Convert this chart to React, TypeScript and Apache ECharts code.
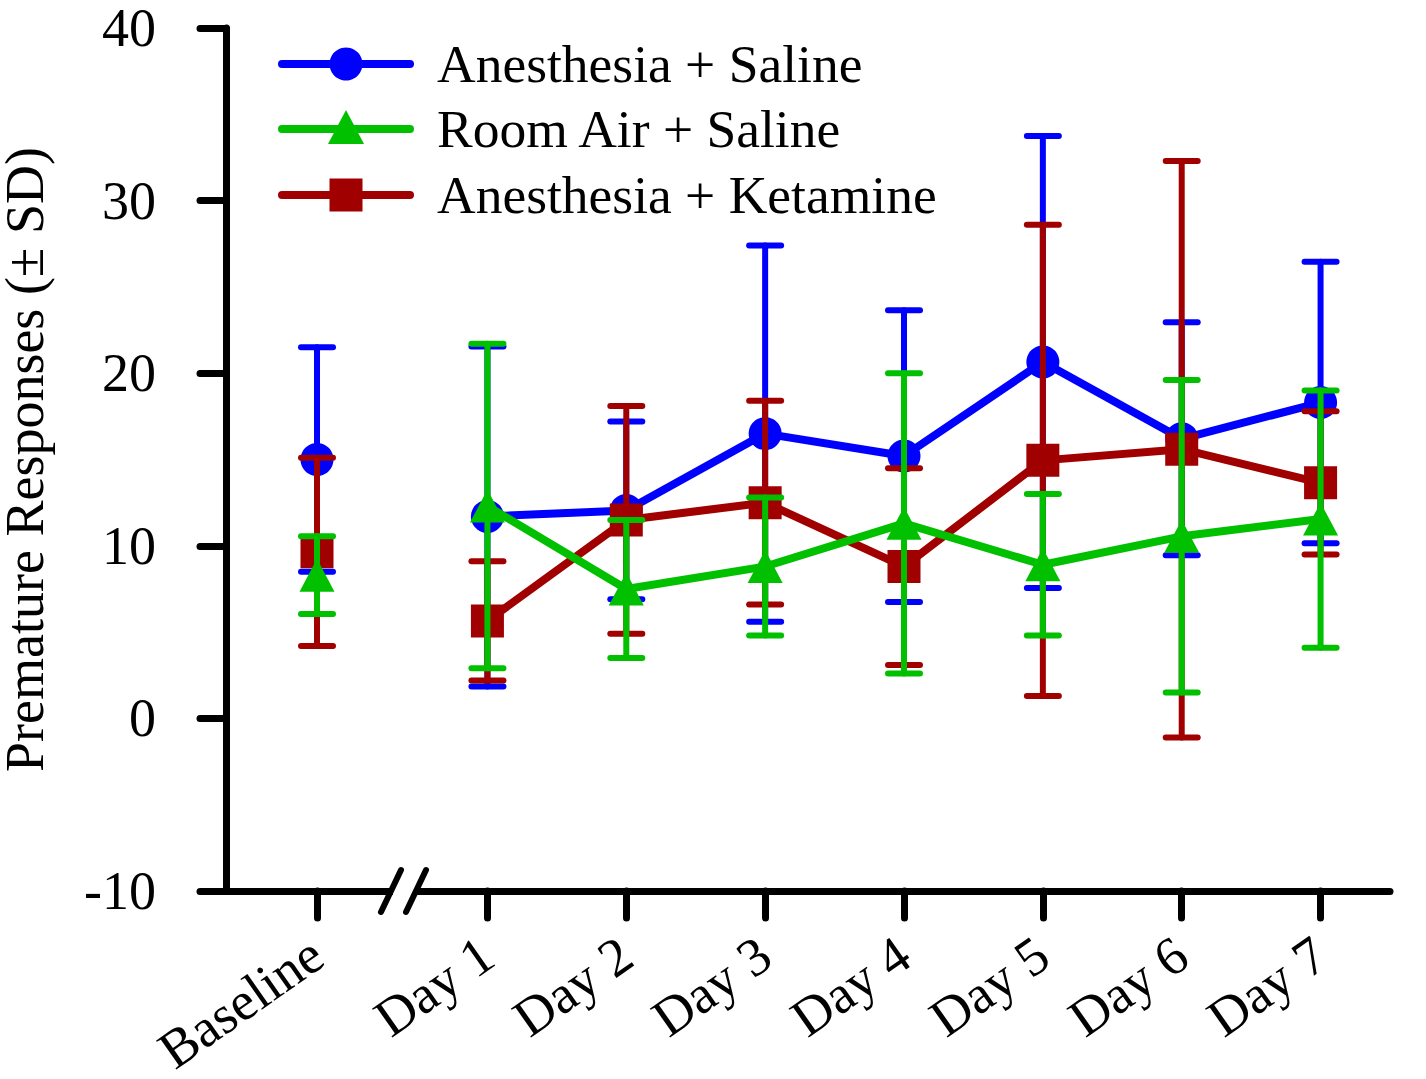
import React, { useEffect, useRef } from "react";
import * as echarts from "echarts";

// ---------- data ----------
const BASELINE_CATEGORY = ["Baseline"];
const DAY_CATEGORIES = ["Day 1", "Day 2", "Day 3", "Day 4", "Day 5", "Day 6", "Day 7"];
const Y_MIN = -10;
const Y_MAX = 40;
const Y_STEP = 10;
const Y_TITLE = "Premature Responses (\u00b1 SD)";

// index 0 = Baseline, 1..7 = Day 1..Day 7
const ANES_SALINE_MEAN = [15.0, 11.7, 12.05, 16.5, 15.2, 20.65, 16.2, 18.3];
const ANES_SALINE_SD = [6.5, 9.85, 5.15, 10.9, 8.45, 13.1, 6.75, 8.15];

const AIR_SALINE_MEAN = [8.3, 12.3, 7.5, 8.8, 11.3, 8.9, 10.55, 11.55];
const AIR_SALINE_SD = [2.25, 9.4, 4.0, 4.0, 8.7, 4.1, 9.05, 7.45];

const ANES_KET_MEAN = [9.65, 5.65, 11.5, 12.5, 8.8, 14.95, 15.6, 13.65];
const ANES_KET_SD = [5.45, 3.45, 6.6, 5.9, 5.7, 13.65, 16.7, 4.15];

const GROUPS = [
  { name: "Anesthesia + Saline", mean: ANES_SALINE_MEAN, sd: ANES_SALINE_SD, color: "#0000FF", symbol: "circle", z: 2 },
  { name: "Anesthesia + Ketamine", mean: ANES_KET_MEAN, sd: ANES_KET_SD, color: "#A00000", symbol: "rect", z: 5 },
  { name: "Room Air + Saline", mean: AIR_SALINE_MEAN, sd: AIR_SALINE_SD, color: "#00C000", symbol: "triangle", z: 8 },
];
const LEGEND_ORDER = ["Anesthesia + Saline", "Room Air + Saline", "Anesthesia + Ketamine"];

// ---------- layout / style ----------
const W = 1426;
const H = 1079;
const FONT = '"Liberation Serif", "Times New Roman", Times, serif';
const GRID_TOP = 28;
const GRID_BOTTOM = 188;
const G1_LEFT = 226;
const G1_WIDTH = 182;
const G2_LEFT = 418;
const G2_RIGHT = 36;
const AXIS_W = 7;
const SYMBOL_SIZE = 33;
const FS = 54;

function symbolSizeFor(symbol: string) {
  if (symbol === "triangle") return [35, 33];
  return SYMBOL_SIZE;
}

function errorRenderer(color: string) {
  return (params: any, api: any) => {
    const x = api.value(0);
    const lo = api.coord([x, api.value(1)]);
    const hi = api.coord([x, api.value(2)]);
    const hw = 16;
    const style = { stroke: color, lineWidth: 6, lineCap: "round" };
    return {
      type: "group",
      children: [
        { type: "line", shape: { x1: lo[0], y1: lo[1], x2: hi[0], y2: hi[1] }, style },
        { type: "line", shape: { x1: hi[0] - hw, y1: hi[1], x2: hi[0] + hw, y2: hi[1] }, style },
        { type: "line", shape: { x1: lo[0] - hw, y1: lo[1], x2: lo[0] + hw, y2: lo[1] }, style },
      ],
    };
  };
}

function buildSeries() {
  const series: any[] = [];
  GROUPS.forEach((g) => {
    const base = [[0, g.mean[0]]];
    const baseErr = [[0, g.mean[0] - g.sd[0], g.mean[0] + g.sd[0]]];
    const days = g.mean.slice(1);
    const dayErr = g.mean.slice(1).map((m, i) => [i, m - g.sd[i + 1], m + g.sd[i + 1]]);
    series.push({
      type: "custom",
      name: g.name + " err0",
      xAxisIndex: 0,
      yAxisIndex: 0,
      z: g.z,
      renderItem: errorRenderer(g.color),
      encode: { x: 0, y: [1, 2] },
      data: baseErr,
      clip: false,
    });
    series.push({
      type: "scatter",
      name: g.name,
      xAxisIndex: 0,
      yAxisIndex: 0,
      z: g.z + 1,
      symbol: g.symbol,
      symbolSize: symbolSizeFor(g.symbol),
      itemStyle: { color: g.color, opacity: 1 },
      data: base,
      clip: false,
    });
    series.push({
      type: "custom",
      name: g.name + " err",
      xAxisIndex: 1,
      yAxisIndex: 1,
      z: g.z,
      renderItem: errorRenderer(g.color),
      encode: { x: 0, y: [1, 2] },
      data: dayErr,
      clip: false,
    });
    series.push({
      type: "line",
      name: g.name,
      xAxisIndex: 1,
      yAxisIndex: 1,
      z: g.z + 1,
      symbol: g.symbol,
      symbolSize: symbolSizeFor(g.symbol),
      showSymbol: true,
      lineStyle: { color: g.color, width: 8 },
      itemStyle: { color: g.color },
      data: days,
      clip: false,
    });
  });
  return series;
}

function legendGraphics() {
  const items: any[] = [];
  const x0 = 282;
  const x1 = 410;
  const cx = (x0 + x1) / 2;
  const ys = [64, 129, 195];
  LEGEND_ORDER.forEach((name, i) => {
    const g = GROUPS.find((q) => q.name === name)!;
    const y = ys[i];
    items.push({
      type: "line",
      shape: { x1: x0, y1: y, x2: x1, y2: y },
      style: { stroke: g.color, lineWidth: 8, lineCap: "round" },
      z: 50,
    });
    if (g.symbol === "circle") {
      items.push({ type: "circle", shape: { cx, cy: y, r: 16.5 }, style: { fill: g.color }, z: 51 });
    } else if (g.symbol === "rect") {
      items.push({ type: "rect", shape: { x: cx - 16.5, y: y - 16.5, width: 33, height: 33 }, style: { fill: g.color }, z: 51 });
    } else {
      items.push({
        type: "polygon",
        shape: { points: [[cx, y - 19], [cx + 18, y + 15], [cx - 18, y + 15]] },
        style: { fill: g.color },
        z: 51,
      });
    }
    items.push({
      type: "text",
      x: 437,
      y,
      style: { text: g.name, font: `53.5px ${FONT}`, fill: "#000", textVerticalAlign: "middle", verticalAlign: "middle" },
      z: 51,
    });
  });
  return items;
}

function breakGraphics() {
  const axisY = H - GRID_BOTTOM;
  const style = { stroke: "#000", lineWidth: 6, lineCap: "round" };
  return [
    { type: "rect", shape: { x: 393, y: axisY - 7, width: 22, height: 14 }, style: { fill: "#fff" }, z: 60 },
    { type: "line", shape: { x1: 381, y1: axisY + 21, x2: 401, y2: axisY - 21 }, style, z: 61 },
    { type: "line", shape: { x1: 406, y1: axisY + 21, x2: 426, y2: axisY - 21 }, style, z: 61 },
  ];
}

function xAxisCfg(gridIndex: number, data: string[]) {
  return {
    type: "category",
    gridIndex,
    data,
    boundaryGap: true,
    axisLine: { show: true, onZero: false, lineStyle: { color: "#000", width: AXIS_W, cap: "round" } },
    axisTick: { show: true, alignWithLabel: true, length: 27, lineStyle: { color: "#000", width: AXIS_W, cap: "round" } },
    axisLabel: {
      show: true,
      interval: 0,
      rotate: 35,
      margin: 58,
      color: "#000",
      fontSize: FS,
      fontFamily: FONT,
    },
    splitLine: { show: false },
  };
}

export default function App() {
  const ref = useRef<HTMLDivElement>(null);
  useEffect(() => {
    if (!ref.current) return;
    const chart = echarts.init(ref.current, null, { renderer: "svg" });
    chart.setOption({
      animation: false,
      backgroundColor: "#fff",
      grid: [
        { left: G1_LEFT, top: GRID_TOP, width: G1_WIDTH, bottom: GRID_BOTTOM, containLabel: false, outerBoundsMode: "none" },
        { left: G2_LEFT, top: GRID_TOP, right: G2_RIGHT, bottom: GRID_BOTTOM, containLabel: false, outerBoundsMode: "none" },
      ],
      xAxis: [xAxisCfg(0, BASELINE_CATEGORY), xAxisCfg(1, DAY_CATEGORIES)],
      yAxis: [
        {
          type: "value",
          gridIndex: 0,
          min: Y_MIN,
          max: Y_MAX,
          interval: Y_STEP,
          name: Y_TITLE,
          nameLocation: "middle",
          nameGap: 174,
          nameTextStyle: { color: "#000", fontSize: FS, fontFamily: FONT },
          axisLine: { show: true, lineStyle: { color: "#000", width: AXIS_W, cap: "round" } },
          axisTick: { show: true, length: 26, lineStyle: { color: "#000", width: AXIS_W, cap: "round" } },
          axisLabel: { color: "#000", fontSize: FS, fontFamily: FONT, margin: 70 },
          splitLine: { show: false },
        },
        {
          type: "value",
          gridIndex: 1,
          min: Y_MIN,
          max: Y_MAX,
          interval: Y_STEP,
          show: false,
          splitLine: { show: false },
        },
      ],
      series: buildSeries(),
      graphic: [...breakGraphics(), ...legendGraphics()],
    });
    return () => chart.dispose();
  }, []);
  return (
    <div
      ref={ref}
      style={{ position: "fixed", left: 0, top: 0, width: W, height: H, background: "#fff" }}
    />
  );
}
